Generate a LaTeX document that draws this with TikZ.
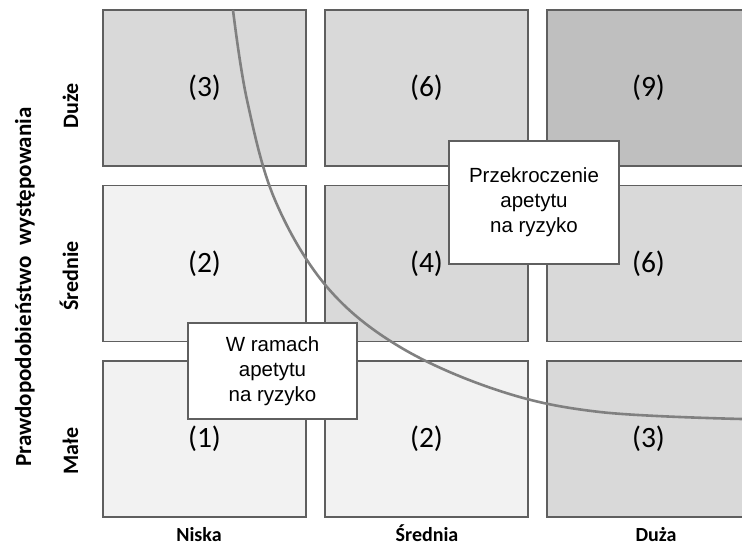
\documentclass[tikz,border=0pt]{standalone}
\usepackage{fontspec}
\setmainfont{Carlito}
\newfontfamily\boxfont{Liberation Sans}
\usepackage{tikz}
\definecolor{lowrisk}{HTML}{F2F2F2}
\definecolor{midrisk}{HTML}{D9D9D9}
\definecolor{highrisk}{HTML}{BFBFBF}
\definecolor{edge}{HTML}{5F5F5F}
\definecolor{border}{HTML}{808080}

\begin{document}
\begin{tikzpicture}[x=1pt, y=-1pt,
    cell/.style={rectangle, draw=edge, line width=1.6pt, minimum width=203pt, minimum height=156pt, font=\fontsize{29.5}{31}\selectfont},
    zone/.style={rectangle, draw=edge, line width=1.6pt, fill=white, align=center, font=\boxfont\fontsize{20.5}{25}\selectfont},
    axis/.style={font=\bfseries\fontsize{20}{22}\selectfont, text height=14pt, text depth=4pt, inner sep=0pt}]
            \clip (0,0) rectangle (742,547);

            % Nodes
            \node[cell, fill=midrisk] (11) at (204.5, 88) {(3)};
            \node[cell, fill=midrisk] (12) at (426.5, 88) {(6)};
            \node[cell, fill=highrisk] (13) at (648.5, 88) {(9)};
            \node[cell, fill=lowrisk] (21) at (204.5, 263.5) {(2)};
            \node[cell, fill=midrisk] (22) at (426.5, 263.5) {(4)};
            \node[cell, fill=midrisk] (23) at (648.5, 263.5) {(6)};
            \node[cell, fill=lowrisk] (31) at (204.5, 439) {(1)};
            \node[cell, fill=lowrisk] (32) at (426.5, 439) {(2)};
            \node[cell, fill=midrisk] (33) at (648.5, 439) {(3)};

            % Lines
            \draw[border, line width=2.6pt] plot[smooth, tension=0.6] coordinates {(233,10) (247,100) (275,200) (327,287) (400,347) (500,391) (600,412) (742,419)};

            \node[zone, minimum width=170pt, minimum height=123pt] (over) at (534, 202.5) {Przekroczenie\\apetytu\\na ryzyko};
            \node[zone, minimum width=169pt, minimum height=96pt] (within) at (272.5, 371) {W ramach\\apetytu\\na ryzyko};

            \node[axis, rotate=90, font=\bfseries\fontsize{23}{25}\selectfont] (prob) at (26, 287) {Prawdopodobieństwo\ \ występowania};
            \node[axis, rotate=90, font=\bfseries\fontsize{22}{24}\selectfont] (high) at (73, 106) {Duże};
            \node[axis, rotate=90, font=\bfseries\fontsize{22}{24}\selectfont] (medium) at (73, 276) {Średnie};
            \node[axis, rotate=90, font=\bfseries\fontsize{22}{24}\selectfont] (low) at (73, 451) {Małe};
            \node[axis] (small) at (199, 536) {Niska};
            \node[axis] (average) at (427, 536) {Średnia};
            \node[axis] (large) at (656, 536) {Duża};

        \end{tikzpicture}
\end{document}
